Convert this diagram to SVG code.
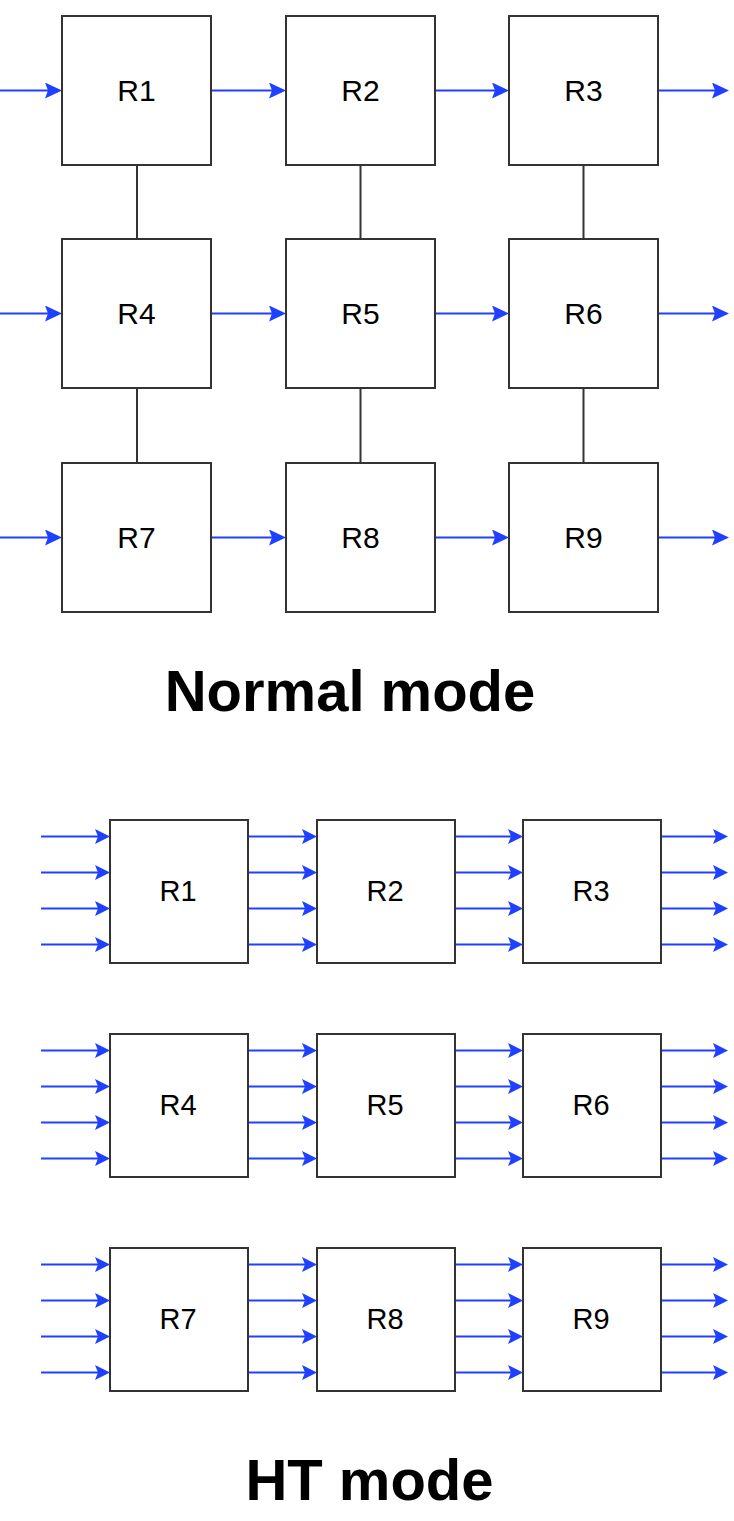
<svg xmlns="http://www.w3.org/2000/svg" width="734" height="1521" viewBox="0 0 734 1521">
<style>
.box{fill:#ffffff;stroke:#333333;stroke-width:2}
.lbl{font-family:"Liberation Sans",Arial,sans-serif;fill:#000000;text-anchor:middle}
.t{font-size:30px}
.b{font-size:29px}
.title{font-family:"Liberation Sans",Arial,sans-serif;font-weight:bold;font-size:58px;fill:#000000;text-anchor:middle}
.blueA{stroke:#1f40ff;stroke-width:2;fill:none;marker-end:url(#arrA)}
.blueB{stroke:#1f40ff;stroke-width:2;fill:none;marker-end:url(#arrB)}
.link{stroke:#333333;stroke-width:2;fill:none}
</style>
<defs>
<marker id="arrA" markerUnits="userSpaceOnUse" viewBox="0 0 17 16" refX="3" refY="8" markerWidth="17" markerHeight="16" orient="auto">
<path d="M0,0 L17,8 L0,16 L3,8 Z" fill="#1f40ff"/>
</marker>
<marker id="arrB" markerUnits="userSpaceOnUse" viewBox="0 0 15 15" refX="3" refY="7.5" markerWidth="15" markerHeight="15" orient="auto">
<path d="M0,0 L15,7.5 L0,15 L3,7.5 Z" fill="#1f40ff"/>
</marker>
</defs>

<g id="connectors">
<line class="blueA" x1="0" y1="90.5" x2="48" y2="90.5"/>
<line class="blueA" x1="212" y1="90.5" x2="272" y2="90.5"/>
<line class="blueA" x1="435" y1="90.5" x2="495" y2="90.5"/>
<line class="blueA" x1="658" y1="90.5" x2="715" y2="90.5"/>
<line class="blueA" x1="0" y1="313.5" x2="48" y2="313.5"/>
<line class="blueA" x1="212" y1="313.5" x2="272" y2="313.5"/>
<line class="blueA" x1="435" y1="313.5" x2="495" y2="313.5"/>
<line class="blueA" x1="658" y1="313.5" x2="715" y2="313.5"/>
<line class="blueA" x1="0" y1="537.5" x2="48" y2="537.5"/>
<line class="blueA" x1="212" y1="537.5" x2="272" y2="537.5"/>
<line class="blueA" x1="435" y1="537.5" x2="495" y2="537.5"/>
<line class="blueA" x1="658" y1="537.5" x2="715" y2="537.5"/>
<line class="link" x1="137" y1="165" x2="137" y2="239"/>
<line class="link" x1="360.5" y1="165" x2="360.5" y2="239"/>
<line class="link" x1="583.5" y1="165" x2="583.5" y2="239"/>
<line class="link" x1="137" y1="388" x2="137" y2="463"/>
<line class="link" x1="360.5" y1="388" x2="360.5" y2="463"/>
<line class="link" x1="583.5" y1="388" x2="583.5" y2="463"/>
<g id="ht-row1-arrows">
<line class="blueB" x1="41" y1="836.5" x2="98" y2="836.5"/>
<line class="blueB" x1="41" y1="872.5" x2="98" y2="872.5"/>
<line class="blueB" x1="41" y1="908.5" x2="98" y2="908.5"/>
<line class="blueB" x1="41" y1="944.5" x2="98" y2="944.5"/>
<line class="blueB" x1="248" y1="836.5" x2="305" y2="836.5"/>
<line class="blueB" x1="248" y1="872.5" x2="305" y2="872.5"/>
<line class="blueB" x1="248" y1="908.5" x2="305" y2="908.5"/>
<line class="blueB" x1="248" y1="944.5" x2="305" y2="944.5"/>
<line class="blueB" x1="455" y1="836.5" x2="511" y2="836.5"/>
<line class="blueB" x1="455" y1="872.5" x2="511" y2="872.5"/>
<line class="blueB" x1="455" y1="908.5" x2="511" y2="908.5"/>
<line class="blueB" x1="455" y1="944.5" x2="511" y2="944.5"/>
<line class="blueB" x1="661" y1="836.5" x2="716" y2="836.5"/>
<line class="blueB" x1="661" y1="872.5" x2="716" y2="872.5"/>
<line class="blueB" x1="661" y1="908.5" x2="716" y2="908.5"/>
<line class="blueB" x1="661" y1="944.5" x2="716" y2="944.5"/>
</g>
<g id="ht-row2-arrows">
<line class="blueB" x1="41" y1="1050.5" x2="98" y2="1050.5"/>
<line class="blueB" x1="41" y1="1086.5" x2="98" y2="1086.5"/>
<line class="blueB" x1="41" y1="1122.5" x2="98" y2="1122.5"/>
<line class="blueB" x1="41" y1="1158.5" x2="98" y2="1158.5"/>
<line class="blueB" x1="248" y1="1050.5" x2="305" y2="1050.5"/>
<line class="blueB" x1="248" y1="1086.5" x2="305" y2="1086.5"/>
<line class="blueB" x1="248" y1="1122.5" x2="305" y2="1122.5"/>
<line class="blueB" x1="248" y1="1158.5" x2="305" y2="1158.5"/>
<line class="blueB" x1="455" y1="1050.5" x2="511" y2="1050.5"/>
<line class="blueB" x1="455" y1="1086.5" x2="511" y2="1086.5"/>
<line class="blueB" x1="455" y1="1122.5" x2="511" y2="1122.5"/>
<line class="blueB" x1="455" y1="1158.5" x2="511" y2="1158.5"/>
<line class="blueB" x1="661" y1="1050.5" x2="716" y2="1050.5"/>
<line class="blueB" x1="661" y1="1086.5" x2="716" y2="1086.5"/>
<line class="blueB" x1="661" y1="1122.5" x2="716" y2="1122.5"/>
<line class="blueB" x1="661" y1="1158.5" x2="716" y2="1158.5"/>
</g>
<g id="ht-row3-arrows">
<line class="blueB" x1="41" y1="1264.5" x2="98" y2="1264.5"/>
<line class="blueB" x1="41" y1="1300.5" x2="98" y2="1300.5"/>
<line class="blueB" x1="41" y1="1336.5" x2="98" y2="1336.5"/>
<line class="blueB" x1="41" y1="1372.5" x2="98" y2="1372.5"/>
<line class="blueB" x1="248" y1="1264.5" x2="305" y2="1264.5"/>
<line class="blueB" x1="248" y1="1300.5" x2="305" y2="1300.5"/>
<line class="blueB" x1="248" y1="1336.5" x2="305" y2="1336.5"/>
<line class="blueB" x1="248" y1="1372.5" x2="305" y2="1372.5"/>
<line class="blueB" x1="455" y1="1264.5" x2="511" y2="1264.5"/>
<line class="blueB" x1="455" y1="1300.5" x2="511" y2="1300.5"/>
<line class="blueB" x1="455" y1="1336.5" x2="511" y2="1336.5"/>
<line class="blueB" x1="455" y1="1372.5" x2="511" y2="1372.5"/>
<line class="blueB" x1="661" y1="1264.5" x2="716" y2="1264.5"/>
<line class="blueB" x1="661" y1="1300.5" x2="716" y2="1300.5"/>
<line class="blueB" x1="661" y1="1336.5" x2="716" y2="1336.5"/>
<line class="blueB" x1="661" y1="1372.5" x2="716" y2="1372.5"/>
</g>
</g>

<g id="n-R1"><rect class="box" x="62" y="16" width="149" height="149"/><text class="lbl t" x="136.5" y="101">R1</text></g>
<g id="n-R2"><rect class="box" x="286" y="16" width="149" height="149"/><text class="lbl t" x="360.5" y="101">R2</text></g>
<g id="n-R3"><rect class="box" x="509" y="16" width="149" height="149"/><text class="lbl t" x="583.5" y="101">R3</text></g>
<g id="n-R4"><rect class="box" x="62" y="239" width="149" height="149"/><text class="lbl t" x="136.5" y="324">R4</text></g>
<g id="n-R5"><rect class="box" x="286" y="239" width="149" height="149"/><text class="lbl t" x="360.5" y="324">R5</text></g>
<g id="n-R6"><rect class="box" x="509" y="239" width="149" height="149"/><text class="lbl t" x="583.5" y="324">R6</text></g>
<g id="n-R7"><rect class="box" x="62" y="463" width="149" height="149"/><text class="lbl t" x="136.5" y="548">R7</text></g>
<g id="n-R8"><rect class="box" x="286" y="463" width="149" height="149"/><text class="lbl t" x="360.5" y="548">R8</text></g>
<g id="n-R9"><rect class="box" x="509" y="463" width="149" height="149"/><text class="lbl t" x="583.5" y="548">R9</text></g>
<text id="title-normal" class="title" x="350" y="711">Normal mode</text>

<g id="h-R1"><rect class="box" x="110" y="820" width="138" height="143"/><text class="lbl b" x="178" y="901">R1</text></g>
<g id="h-R2"><rect class="box" x="317" y="820" width="138" height="143"/><text class="lbl b" x="385" y="901">R2</text></g>
<g id="h-R3"><rect class="box" x="523" y="820" width="138" height="143"/><text class="lbl b" x="591" y="901">R3</text></g>
<g id="h-R4"><rect class="box" x="110" y="1034" width="138" height="143"/><text class="lbl b" x="178" y="1115">R4</text></g>
<g id="h-R5"><rect class="box" x="317" y="1034" width="138" height="143"/><text class="lbl b" x="385" y="1115">R5</text></g>
<g id="h-R6"><rect class="box" x="523" y="1034" width="138" height="143"/><text class="lbl b" x="591" y="1115">R6</text></g>
<g id="h-R7"><rect class="box" x="110" y="1248" width="138" height="143"/><text class="lbl b" x="178" y="1329">R7</text></g>
<g id="h-R8"><rect class="box" x="317" y="1248" width="138" height="143"/><text class="lbl b" x="385" y="1329">R8</text></g>
<g id="h-R9"><rect class="box" x="523" y="1248" width="138" height="143"/><text class="lbl b" x="591" y="1329">R9</text></g>
<text id="title-ht" class="title" x="369.5" y="1500">HT mode</text>
</svg>
